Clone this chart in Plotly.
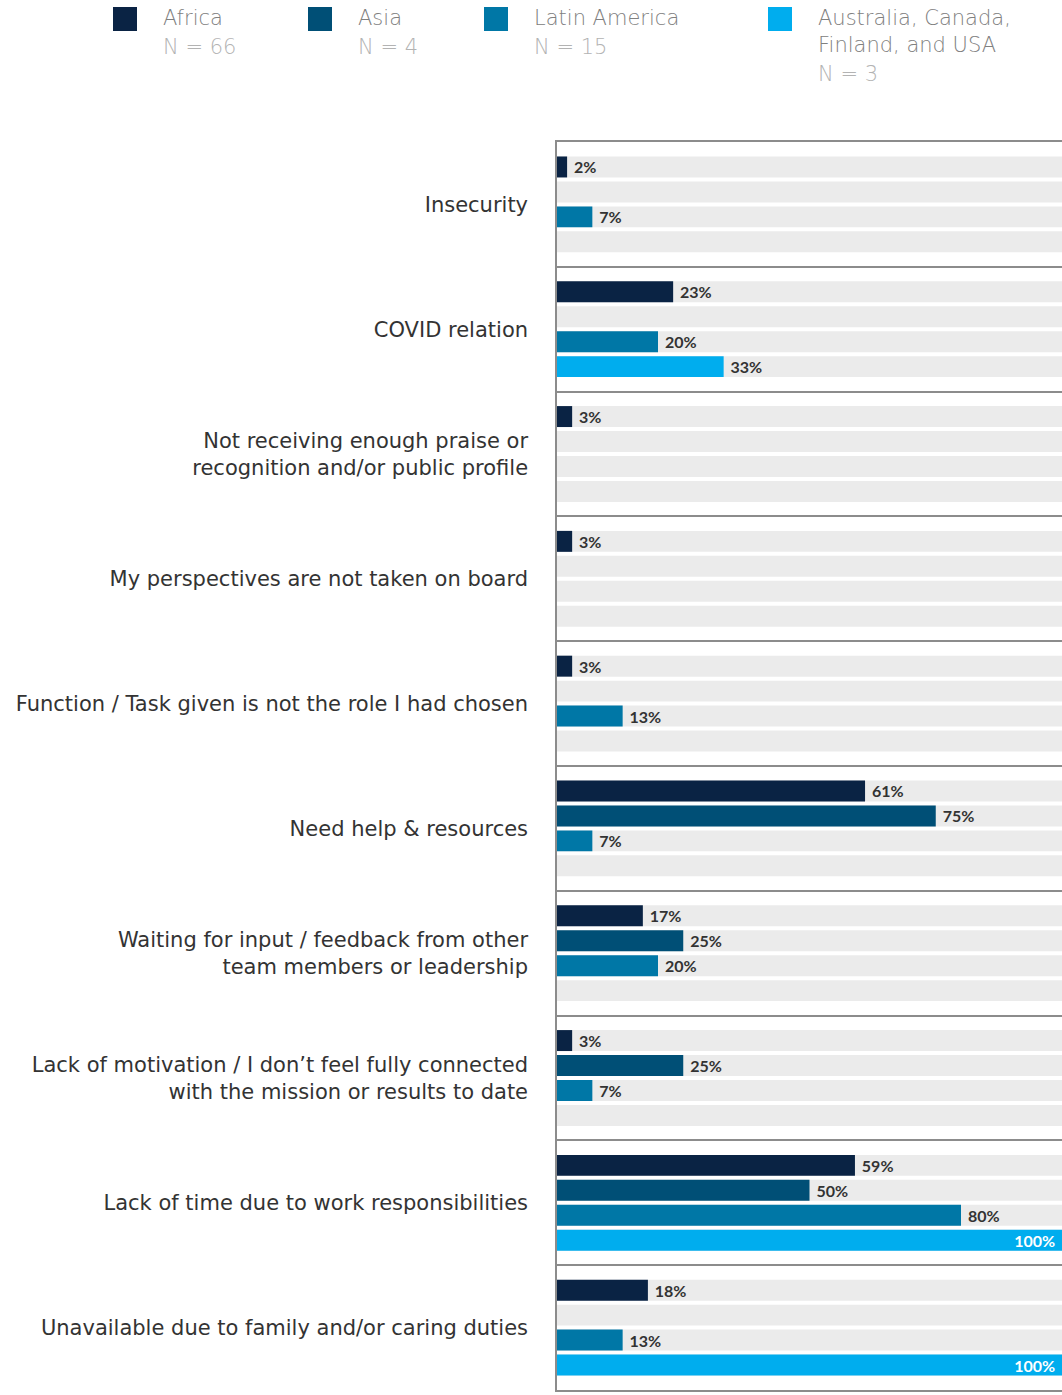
import plotly.graph_objects as go

# カテゴリと地域別データ (%)
categories = [
    "Insecurity",
    "COVID relation",
    "Not receiving enough praise or<br>recognition and/or public profile",
    "My perspectives are not taken on board",
    "Function / Task given is not the role I had chosen",
    "Need help & resources",
    "Waiting for input / feedback from other<br>team members or leadership",
    "Lack of motivation / I don’t feel fully connected<br>with the mission or results to date",
    "Lack of time due to work responsibilities",
    "Unavailable due to family and/or caring duties",
]
africa = [2, 23, 3, 3, 3, 61, 17, 3, 59, 18]
asia = [None, None, None, None, None, 75, 25, 25, 50, None]
latin_america = [7, 20, None, None, 13, 7, 20, 7, 80, 13]
aus_can_fin_usa = [None, 33, None, None, None, None, None, None, 100, 100]

series_names = ["Africa", "Asia", "Latin America", "Australia, Canada,<br>Finland, and USA"]
series_n = ["N = 66", "N = 4", "N = 15", "N = 3"]
series_values = [africa, asia, latin_america, aus_can_fin_usa]
series_colors = ["#0a2344", "#004f76", "#0077a6", "#00adee"]

W, H = 1062, 1395
ML, MR, MT, MB = 557, 0, 142, 5
PW = W - ML - MR
PH = H - MT - MB


def px_x(p):
    return (p - ML) / PW


def px_y(p):
    return (H - MB - p) / PH


fig = go.Figure()

# 背景のグレーバー
for name in series_names:
    fig.add_trace(go.Bar(
        y=categories, x=[100] * len(categories), orientation="h",
        marker=dict(color="#ebebeb", line=dict(width=0)),
        hoverinfo="skip", showlegend=False, yaxis="y",
    ))

# データバー
for name, vals, color in zip(series_names, series_values, series_colors):
    pos = ["inside" if (v is not None and v >= 100) else "outside" for v in vals]
    txt = [None if v is None else (f"{v}%\u00a0" if v >= 100 else f"\u00a0{v}%") for v in vals]
    fig.add_trace(go.Bar(
        y=categories, x=vals, orientation="h", name=name,
        marker=dict(color=color, line=dict(width=0)),
        text=txt, textposition=pos, insidetextanchor="end", constraintext="none",
        outsidetextfont=dict(family="Lato", size=16, color="#333333", weight="bold"),
        insidetextfont=dict(family="Lato", size=16, color="#ffffff", weight="bold"),
        cliponaxis=False, showlegend=False, yaxis="y2",
        hovertemplate=name.replace("<br>", " ") + ": %{x}%<extra></extra>",
    ))

# 凡例（手動）
leg_x = [113, 308, 484, 768]
for lx, name, n, color in zip(leg_x, series_names, series_n, series_colors):
    fig.add_shape(type="rect", xref="paper", yref="paper",
                  x0=px_x(lx), x1=px_x(lx + 24), y0=px_y(31), y1=px_y(7),
                  fillcolor=color, line=dict(width=0))
    lines = name.split("<br>")
    for k, line in enumerate(lines):
        fig.add_annotation(
            xref="paper", yref="paper", x=px_x(lx + 48), y=px_y(18 + 27 * k),
            xanchor="left", yanchor="middle", showarrow=False, text=line,
            font=dict(family="DejaVu Sans", size=21, color="#808080", weight=200),
        )
    fig.add_annotation(
        xref="paper", yref="paper", x=px_x(lx + 48), y=px_y(47 + 27 * (len(lines) - 1)),
        xanchor="left", yanchor="middle", showarrow=False, text=n,
        font=dict(family="DejaVu Sans", size=21, color="#b3b3b3", weight=200),
    )

yaxis_common = dict(
    type="category", categoryorder="array", categoryarray=categories,
    autorange="reversed",
)

fig.update_layout(
    width=W, height=H,
    margin=dict(l=ML, r=MR, t=MT, b=MB),
    paper_bgcolor="white", plot_bgcolor="white",
    barmode="group", bargap=0.2, bargroupgap=0.16,
    xaxis=dict(range=[0, 100], showgrid=False, zeroline=False, showticklabels=False,
               showline=True, mirror=True, linecolor="#8c8c8c", linewidth=1.5),
    yaxis=dict(**yaxis_common, showgrid=True, tickson="boundaries", gridcolor="#8c8c8c",
               gridwidth=1.5, showline=True, linecolor="#8c8c8c", linewidth=1.5,
               ticks="", ticklabelstandoff=23,
               tickfont=dict(family="DejaVu Sans", size=21, color="#333333")),
    yaxis2=dict(**yaxis_common, overlaying="y", showgrid=False, showticklabels=False,
                showline=False, zeroline=False),
)

fig.write_html(
    "out.html",
    config={"displayModeBar": False},
    post_script="document.body.style.margin='0';document.body.style.overflow='hidden';",
)
